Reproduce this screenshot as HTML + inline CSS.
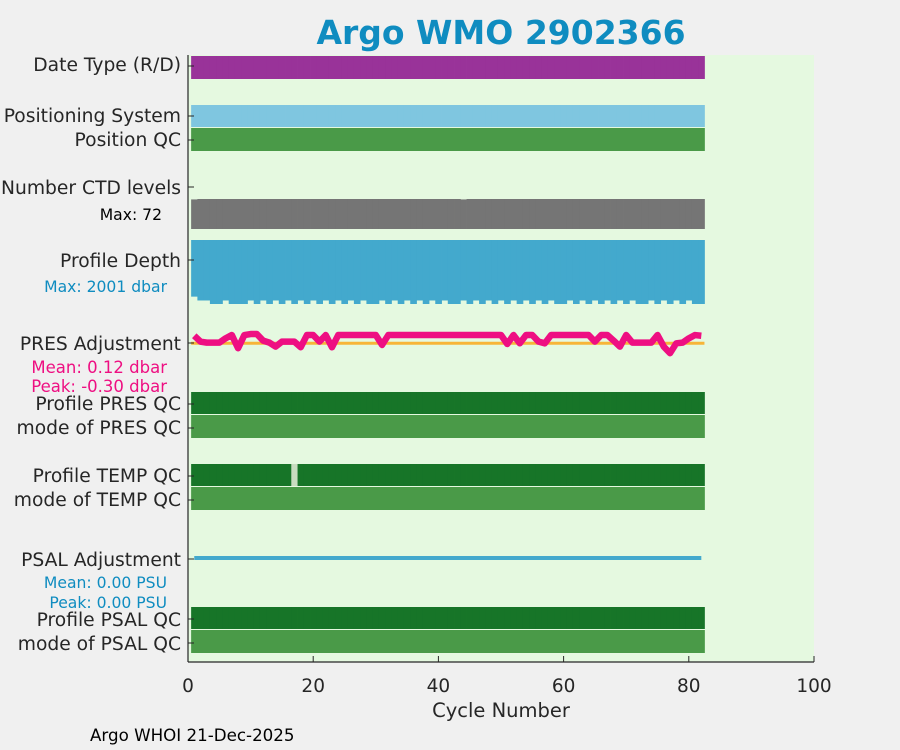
<!DOCTYPE html>
<html><head><meta charset="utf-8"><style>
html,body{margin:0;padding:0;background:#f0f0f0;}
svg{display:block;font-family:"DejaVu Sans","Liberation Sans",sans-serif;}
</style></head><body>
<svg id="chart" width="900" height="750" viewBox="0 0 900 750">
<rect x="0" y="0" width="900" height="750" fill="#f0f0f0"/>
<text x="501" y="44" text-anchor="middle" font-size="33" font-weight="bold" fill="#0f8cc0">Argo WMO 2902366</text>
<rect x="188" y="55" width="626" height="607" fill="#e5f9e0"/>
<g id="marks"></g>
<g id="labels" font-size="18.7" fill="#262626" text-anchor="end">
<text x="181" y="71">Date Type (R/D)</text>
<text x="181" y="122">Positioning System</text>
<text x="181" y="146">Position QC</text>
<text x="181" y="194">Number CTD levels</text>
<text x="162" y="220" font-size="15.6" fill="#000">Max: 72</text>
<text x="167" y="292" font-size="15.6" fill="#0f8cc0">Max: 2001 dbar</text>
<text x="181" y="267">Profile Depth</text>
<text x="181" y="350">PRES Adjustment</text>
<text x="167" y="373" font-size="16.5" fill="#ee0f82">Mean: 0.12 dbar</text>
<text x="167" y="392" font-size="16.5" fill="#ee0f82">Peak: -0.30 dbar</text>
<text x="181" y="410">Profile PRES QC</text>
<text x="181" y="434">mode of PRES QC</text>
<text x="181" y="482">Profile TEMP QC</text>
<text x="181" y="506">mode of TEMP QC</text>
<text x="181" y="566">PSAL Adjustment</text>
<text x="167" y="588" font-size="15.6" fill="#0f8cc0">Mean: 0.00 PSU</text>
<text x="167" y="608" font-size="15.6" fill="#0f8cc0">Peak: 0.00 PSU</text>
<text x="181" y="626">Profile PSAL QC</text>
<text x="181" y="650">mode of PSAL QC</text>
</g>
<g id="axes"></g>
<text x="501" y="717" text-anchor="middle" font-size="19.5" fill="#262626">Cycle Number</text>
<text x="90" y="741" font-size="16.7" fill="#000">Argo WHOI 21-Dec-2025</text>
</svg>
<script>
const cycles = Array.from({length:82},(_,i)=>i+1);
const xTicks = [0,20,40,60,80,100];
const ctdLevels = cycles.map(c => (c===1||c===44)?71:72);
const shallowCycles = [1,2,3,6,10,12,14,16,18,20,22,24,26,28,31,33,35,37,39,41,44,46,48,50,52,54,56,58,61,63,65,67,69,71,74,76,78,80];
const profileDepth = cycles.map(c => c===1?1978:(shallowCycles.indexOf(c)>=0?1990:2001));
const presAdj = [0.23,0.05,0.02,0.02,0.02,0.15,0.25,-0.15,0.25,0.28,0.28,0.08,0.02,-0.1,0.05,0.05,0.05,-0.12,0.25,0.25,0.05,0.25,-0.12,0.25,0.25,0.25,0.25,0.25,0.25,0.25,-0.05,0.25,0.25,0.25,0.25,0.25,0.25,0.25,0.25,0.25,0.25,0.25,0.25,0.25,0.25,0.25,0.25,0.25,0.25,0.25,-0.02,0.25,0.0,0.25,0.25,0.05,0.0,0.25,0.25,0.25,0.25,0.25,0.25,0.25,0.05,0.25,0.25,0.08,-0.1,0.25,0.02,0.02,0.02,0.02,0.25,-0.1,-0.3,0.0,0.02,0.15,0.25,0.23];
const psalAdj = cycles.map(()=>0);
const tempQcBad = [17];

const NS='http://www.w3.org/2000/svg';
const x0=188, x1=814, xmax=100;
function X(v){return x0+(v)*(x1-x0)/xmax;}
const marks=document.getElementById('marks');
const axes=document.getElementById('axes');
function mk(tag,attrs,parent){const e=document.createElementNS(NS,tag);for(const k in attrs)e.setAttribute(k,attrs[k]);parent.appendChild(e);return e;}

function bandRow(y0,y1,color,name,badList,badColor){
  cycles.forEach(c=>{
    const r=mk('rect',{x:X(c-0.5),y:y0,width:X(c+0.5)-X(c-0.5)+0.4,height:y1-y0,fill:(badList&&badList.indexOf(c)>=0)?badColor:color},marks);
    
    
  });
}
bandRow(56,79,'#993399','date-type-bar');
bandRow(105,127,'#7fc6e0','positioning-system-bar');
bandRow(128,151,'#4a9a48','position-qc-bar');
cycles.forEach((c,i)=>{
  const top=229-ctdLevels[i]*(30/72);
  const r=mk('rect',{x:X(c-0.5),y:top,width:X(c+0.5)-X(c-0.5)+0.4,height:229-top,fill:'#757575'},marks);
  
  
});
cycles.forEach((c,i)=>{
  const h=(profileDepth[i]-1801)*0.32;
  const r=mk('rect',{x:X(c-0.5),y:240,width:X(c+0.5)-X(c-0.5)+0.4,height:h,fill:'#43a9cd'},marks);
  
  
});
function presY(v){return 343.3-v*33;}
const zl=mk('line',{x1:X(0.5),x2:X(82.5),y1:presY(0),y2:presY(0),stroke:'#f7b538','stroke-width':3},marks);


const pl=mk('polyline',{points:cycles.map((c,i)=>X(c)+','+presY(presAdj[i])).join(' '),fill:'none',stroke:'#ee0f82','stroke-width':6.5,'stroke-linejoin':'round'},marks);


bandRow(392,414,'#177528','profile-pres-qc-bar');
bandRow(415,438,'#4a9a48','mode-pres-qc-bar');
bandRow(464,486,'#177528','profile-temp-qc-bar',tempQcBad,'#c8dcc0');
bandRow(487,510,'#4a9a48','mode-temp-qc-bar');
const ps=mk('polyline',{points:cycles.map((c,i)=>X(c)+','+(558-psalAdj[i]*33)).join(' '),fill:'none',stroke:'#43a9cd','stroke-width':4},marks);


bandRow(607,629,'#177528','profile-psal-qc-bar');
bandRow(630,653,'#4a9a48','mode-psal-qc-bar');

const ya=mk('line',{x1:188,x2:188,y1:55,y2:662,stroke:'#262626','stroke-width':1.2},axes);


const xa=mk('line',{x1:188,x2:814,y1:662,y2:662,stroke:'#262626','stroke-width':1.2},axes);


[66,116,140,187,260,343,404,428,476,500,559,619,643].forEach(y=>{
  const t=mk('line',{x1:188,x2:194,y1:y,y2:y,stroke:'#262626','stroke-width':1},axes);
  
  
});
xTicks.forEach(v=>{
  const t=mk('line',{x1:X(v),x2:X(v),y1:662,y2:656,stroke:'#262626','stroke-width':1},axes);
  
  
  const l=mk('text',{x:X(v),y:692,'text-anchor':'middle','font-size':18.5,fill:'#262626'},axes);
  l.textContent=v;
  
  
});
</script>
</body></html>
